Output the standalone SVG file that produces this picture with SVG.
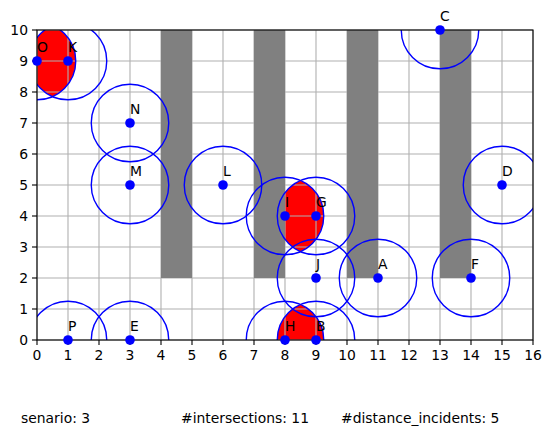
<svg xmlns="http://www.w3.org/2000/svg" width="552" height="436" viewBox="0 0 552 436">
<style>
text{font-family:"DejaVu Sans",sans-serif;font-size:13.9px;fill:#000}
.grid line{stroke:#b0b0b0;stroke-width:1.1}
.bar{fill:#808080}
.lens{fill:#ff0000}
.rng{fill:none;stroke:#0000ff;stroke-width:1.4}
.pt{fill:#0000ff}
.tick line{stroke:#000;stroke-width:1.1}
.xl{text-anchor:middle}
.yl{text-anchor:end}
</style>
<defs>
<clipPath id="ax"><rect x="37" y="30" width="496" height="310"/></clipPath>
</defs>
<rect width="552" height="436" fill="#fff"/>
<g id="lenses" clip-path="url(#ax)">
<path class="lens" d="M52.5 25.49 A38.75 38.75 0 0 1 52.5 96.51 A38.75 38.75 0 0 1 52.5 25.49Z"/>
<path class="lens" d="M300.5 180.49 A38.75 38.75 0 0 1 300.5 251.51 A38.75 38.75 0 0 1 300.5 180.49Z"/>
<path class="lens" d="M300.5 304.49 A38.75 38.75 0 0 1 300.5 375.51 A38.75 38.75 0 0 1 300.5 304.49Z"/>
</g>
<g class="grid">
<line x1="37" y1="30" x2="37" y2="340"/><line x1="68" y1="30" x2="68" y2="340"/><line x1="99" y1="30" x2="99" y2="340"/><line x1="130" y1="30" x2="130" y2="340"/><line x1="161" y1="30" x2="161" y2="340"/><line x1="192" y1="30" x2="192" y2="340"/><line x1="223" y1="30" x2="223" y2="340"/><line x1="254" y1="30" x2="254" y2="340"/><line x1="285" y1="30" x2="285" y2="340"/><line x1="316" y1="30" x2="316" y2="340"/><line x1="347" y1="30" x2="347" y2="340"/><line x1="378" y1="30" x2="378" y2="340"/><line x1="409" y1="30" x2="409" y2="340"/><line x1="440" y1="30" x2="440" y2="340"/><line x1="471" y1="30" x2="471" y2="340"/><line x1="502" y1="30" x2="502" y2="340"/><line x1="533" y1="30" x2="533" y2="340"/>
<line x1="37" y1="340" x2="533" y2="340"/><line x1="37" y1="309" x2="533" y2="309"/><line x1="37" y1="278" x2="533" y2="278"/><line x1="37" y1="247" x2="533" y2="247"/><line x1="37" y1="216" x2="533" y2="216"/><line x1="37" y1="185" x2="533" y2="185"/><line x1="37" y1="154" x2="533" y2="154"/><line x1="37" y1="123" x2="533" y2="123"/><line x1="37" y1="92" x2="533" y2="92"/><line x1="37" y1="61" x2="533" y2="61"/><line x1="37" y1="30" x2="533" y2="30"/>
</g>
<g id="walls">
<rect class="bar" x="161" y="30" width="31" height="248"/>
<rect class="bar" x="254" y="30" width="31" height="248"/>
<rect class="bar" x="347" y="30" width="31" height="248"/>
<rect class="bar" x="440" y="30" width="31" height="248"/>
</g>
<g id="ranges" clip-path="url(#ax)">
<circle class="rng" cx="37" cy="61" r="38.75"/>
<circle class="rng" cx="68" cy="61" r="38.75"/>
<circle class="rng" cx="440" cy="30" r="38.75"/>
<circle class="rng" cx="130" cy="123" r="38.75"/>
<circle class="rng" cx="130" cy="185" r="38.75"/>
<circle class="rng" cx="223" cy="185" r="38.75"/>
<circle class="rng" cx="285" cy="216" r="38.75"/>
<circle class="rng" cx="316" cy="216" r="38.75"/>
<circle class="rng" cx="502" cy="185" r="38.75"/>
<circle class="rng" cx="316" cy="278" r="38.75"/>
<circle class="rng" cx="378" cy="278" r="38.75"/>
<circle class="rng" cx="471" cy="278" r="38.75"/>
<circle class="rng" cx="68" cy="340" r="38.75"/>
<circle class="rng" cx="130" cy="340" r="38.75"/>
<circle class="rng" cx="285" cy="340" r="38.75"/>
<circle class="rng" cx="316" cy="340" r="38.75"/>
</g>
<g id="frame">
<rect x="37" y="30" width="496" height="310" fill="none" stroke="#000" stroke-width="1.1"/>
</g>
<g class="tick">
<line x1="37" y1="340" x2="37" y2="345"/><line x1="68" y1="340" x2="68" y2="345"/><line x1="99" y1="340" x2="99" y2="345"/><line x1="130" y1="340" x2="130" y2="345"/><line x1="161" y1="340" x2="161" y2="345"/><line x1="192" y1="340" x2="192" y2="345"/><line x1="223" y1="340" x2="223" y2="345"/><line x1="254" y1="340" x2="254" y2="345"/><line x1="285" y1="340" x2="285" y2="345"/><line x1="316" y1="340" x2="316" y2="345"/><line x1="347" y1="340" x2="347" y2="345"/><line x1="378" y1="340" x2="378" y2="345"/><line x1="409" y1="340" x2="409" y2="345"/><line x1="440" y1="340" x2="440" y2="345"/><line x1="471" y1="340" x2="471" y2="345"/><line x1="502" y1="340" x2="502" y2="345"/><line x1="533" y1="340" x2="533" y2="345"/>
<line x1="32" y1="340" x2="37" y2="340"/><line x1="32" y1="309" x2="37" y2="309"/><line x1="32" y1="278" x2="37" y2="278"/><line x1="32" y1="247" x2="37" y2="247"/><line x1="32" y1="216" x2="37" y2="216"/><line x1="32" y1="185" x2="37" y2="185"/><line x1="32" y1="154" x2="37" y2="154"/><line x1="32" y1="123" x2="37" y2="123"/><line x1="32" y1="92" x2="37" y2="92"/><line x1="32" y1="61" x2="37" y2="61"/><line x1="32" y1="30" x2="37" y2="30"/>
</g>
<g id="xlabels">
<text class="xl" x="37" y="359.5">0</text><text class="xl" x="68" y="359.5">1</text><text class="xl" x="99" y="359.5">2</text><text class="xl" x="130" y="359.5">3</text><text class="xl" x="161" y="359.5">4</text><text class="xl" x="192" y="359.5">5</text><text class="xl" x="223" y="359.5">6</text><text class="xl" x="254" y="359.5">7</text><text class="xl" x="285" y="359.5">8</text><text class="xl" x="316" y="359.5">9</text><text class="xl" x="347" y="359.5">10</text><text class="xl" x="378" y="359.5">11</text><text class="xl" x="409" y="359.5">12</text><text class="xl" x="440" y="359.5">13</text><text class="xl" x="471" y="359.5">14</text><text class="xl" x="502" y="359.5">15</text><text class="xl" x="533" y="359.5">16</text>
</g>
<g id="ylabels">
<text class="yl" x="28" y="345">0</text><text class="yl" x="28" y="314">1</text><text class="yl" x="28" y="283">2</text><text class="yl" x="28" y="252">3</text><text class="yl" x="28" y="221">4</text><text class="yl" x="28" y="190">5</text><text class="yl" x="28" y="159">6</text><text class="yl" x="28" y="128">7</text><text class="yl" x="28" y="97">8</text><text class="yl" x="28" y="66">9</text><text class="yl" x="28" y="35">10</text>
</g>
<g id="node-O"><circle class="pt" cx="37" cy="61" r="4.8"/><text x="37" y="51.7">O</text></g>
<g id="node-K"><circle class="pt" cx="68" cy="61" r="4.8"/><text x="68" y="51.7">K</text></g>
<g id="node-C"><circle class="pt" cx="440" cy="30" r="4.8"/><text x="440" y="20.7">C</text></g>
<g id="node-N"><circle class="pt" cx="130" cy="123" r="4.8"/><text x="130" y="113.7">N</text></g>
<g id="node-M"><circle class="pt" cx="130" cy="185" r="4.8"/><text x="130" y="175.7">M</text></g>
<g id="node-L"><circle class="pt" cx="223" cy="185" r="4.8"/><text x="223" y="175.7">L</text></g>
<g id="node-I"><circle class="pt" cx="285" cy="216" r="4.8"/><text x="285" y="206.7">I</text></g>
<g id="node-G"><circle class="pt" cx="316" cy="216" r="4.8"/><text x="316" y="206.7">G</text></g>
<g id="node-D"><circle class="pt" cx="502" cy="185" r="4.8"/><text x="502" y="175.7">D</text></g>
<g id="node-J"><circle class="pt" cx="316" cy="278" r="4.8"/><text x="316" y="268.7">J</text></g>
<g id="node-A"><circle class="pt" cx="378" cy="278" r="4.8"/><text x="378" y="268.7">A</text></g>
<g id="node-F"><circle class="pt" cx="471" cy="278" r="4.8"/><text x="471" y="268.7">F</text></g>
<g id="node-P"><circle class="pt" cx="68" cy="340" r="4.8"/><text x="68" y="330.7">P</text></g>
<g id="node-E"><circle class="pt" cx="130" cy="340" r="4.8"/><text x="130" y="330.7">E</text></g>
<g id="node-H"><circle class="pt" cx="285" cy="340" r="4.8"/><text x="285" y="330.7">H</text></g>
<g id="node-B"><circle class="pt" cx="316" cy="340" r="4.8"/><text x="316" y="330.7">B</text></g>
<g id="footer">
<text x="21" y="423">senario: 3</text>
<text x="181" y="423">#intersections: 11</text>
<text x="341" y="423">#distance_incidents: 5</text>
</g>
</svg>
